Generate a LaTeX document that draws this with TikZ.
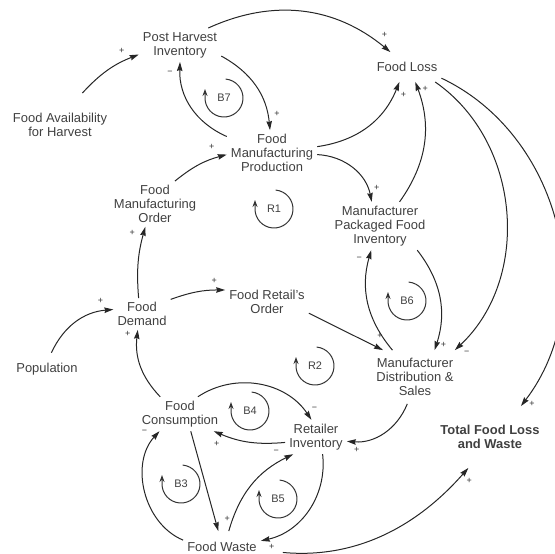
\documentclass[tikz,border=0pt]{standalone}
\usepackage{fontspec}
\setmainfont{Liberation Sans}
\usetikzlibrary{arrows.meta}

\begin{document}
\begin{tikzpicture}[x=1bp, y=1bp, >={Stealth[length=9bp, width=5.5bp, inset=1bp]},
    var/.style={align=center, inner sep=4bp, text=black!75, font=\fontsize{13}{14}\selectfont},
    lk/.style={->, line width=1bp, draw=black!85},
    sgn/.style={inner sep=0pt, text=black!80, font=\fontsize{9}{9}\selectfont},
    lp/.style={inner sep=1bp, text=black!75, font=\fontsize{11}{11}\selectfont},
    lparc/.style={-{Stealth[length=7bp, width=5bp]}, line width=1bp, draw=black!80}]
    \useasboundingbox (0,0) rectangle (555,-554);

    % Variables
    \node[var, inner ysep=20bp] (fah) at (60,-125) {Food Availability\\for Harvest};
    \node[var] (phi) at (180,-45) {Post Harvest\\Inventory};
    \node[var, inner ysep=10bp] (fl) at (407,-67) {Food Loss};
    \node[var] (fmp) at (272,-153) {Food\\Manufacturing\\Production};
    \node[var] (fmo) at (155,-204) {Food\\Manufacturing\\Order};
    \node[var] (mpfi) at (380,-226) {Manufacturer\\Packaged Food\\Inventory};
    \node[var] (fd) at (142,-314) {Food\\Demand};
    \node[var] (fro) at (267,-302) {Food Retail's\\Order};
    \node[var, inner ysep=10bp] (pop) at (47,-369) {Population};
    \node[var, inner ysep=8bp] (mds) at (415,-377) {Manufacturer\\Distribution \&\\Sales};
    \node[var] (ri) at (316,-437) {Retailer\\Inventory};
    \node[var, inner ysep=19bp, font=\fontsize{13}{14}\selectfont\bfseries] (tflw) at (490,-437) {Total Food Loss\\and Waste};
    \node[var] (fc) at (180,-414) {Food\\Consumption};
    \node[var, inner ysep=11bp] (fw) at (222,-547) {Food Waste};

    % Upper part
    \draw[lk] (fah.55) to[bend left=13] node[sgn, at end, xshift=-17, yshift=4] {+} (phi.193);
    \draw[lk] (phi.31) to[bend left=32] node[sgn, at end, xshift=-6, yshift=17] {+} (fl.138);
    \draw[lk] (phi.-15) to[bend left=28] node[sgn, at end, xshift=7, yshift=16] {+} (fmp.95);
    \draw[lk] (fmp.160) to[bend left=34] node[sgn, at end, xshift=-10, yshift=-11] {−} (phi.-90);
    \draw[lk] (fmo.49) to[bend left=12] node[sgn, at end, xshift=-15, yshift=8] {+} (fmp.182);
    \draw[lk] (fmp.8) to[bend right=30] node[sgn, at end, xshift=4, yshift=-13] {+} (fl.-117);
    \draw[lk] (fmp.-2) to[bend left=38] node[sgn, at end, xshift=5, yshift=14] {+} (mpfi.109);
    \draw[lk] (mpfi.51) to[bend right=28] node[sgn, at end, xshift=10, yshift=-7] {+} (fl.-61);

    % Right side
    \draw[lk] (fl.-28) to[bend left=51] node[sgn, at end, xshift=12, yshift=-3] {−} (mds.34);
    \draw[lk] (fl.-18) to[bend left=51] node[sgn, at end, xshift=11, yshift=2] {+} (tflw.45);
    \draw[lk] (mpfi.-33) to[bend left=28] node[sgn, at end, xshift=9, yshift=5] {+} (mds.54);
    \draw[lk] (mds.130) to[bend left=28] node[sgn, at end, xshift=-12, yshift=-9] {−} (mpfi.250);
    \draw[lk] (fro.-15) -- node[sgn, at end, xshift=-3, yshift=14] {+} (mds.140);

    % Demand side
    \draw[lk] (fd.102) to[bend left=10] node[sgn, at end, xshift=-13, yshift=-6] {+} (fmo.247);
    \draw[lk] (fd.27) to[bend left=10] node[sgn, at end, xshift=-11, yshift=9] {+} (fro.164);
    \draw[lk] (pop.75) to[bend left=30] node[sgn, at end, xshift=-13, yshift=9] {+} (fd.171);
    \draw[lk] (fc.139) to[bend left=25] node[sgn, at end, xshift=-10, yshift=-4] {+} (fd.255);

    % Retail and consumption
    \draw[lk] (mds.254) to[bend left=36] node[sgn, at end, xshift=10, yshift=-9] {+} (ri.-8);
    \draw[lk] (fc.44) to[bend left=45] node[sgn, at end, xshift=3, yshift=11] {−} (ri.105);
    \draw[lk] (ri.190) to[bend left=14] node[sgn, at end, xshift=3, yshift=-13] {+} (fc.-27);
    \draw[lk] (ri.-69) to[bend left=42] node[sgn, at end, xshift=11, yshift=-6] {+} (fw.9);
    \draw[lk] (fw.67) to[bend left=24] node[sgn, at end, xshift=-17, yshift=2] {−} (ri.217);
    \draw[lk] (fc.-58) -- node[sgn, at end, xshift=9, yshift=12] {+} (fw.103);
    \draw[lk] (fw.170) to[bend left=55] node[sgn, at end, xshift=-15, yshift=-1] {−} (fc.220);
    \draw[lk, shorten <=22bp] (fw.-5) to[bend right=27] node[sgn, at end, xshift=1, yshift=-13] {+} (tflw.235);

    % Loop markers
    \foreach \nm/\x/\y in {B7/224/98, R1/274/209, B6/407/301, R2/315/366, B4/250/411, B3/181/484, B5/278/499} {
        \node[lp] (\nm) at (\x,-\y) {\nm};
        \draw[lparc] (\nm.center) ++(85:19bp) arc[start angle=85, end angle=-180, radius=19bp] -- ++(0,9bp);
    }
\end{tikzpicture}
\end{document}
